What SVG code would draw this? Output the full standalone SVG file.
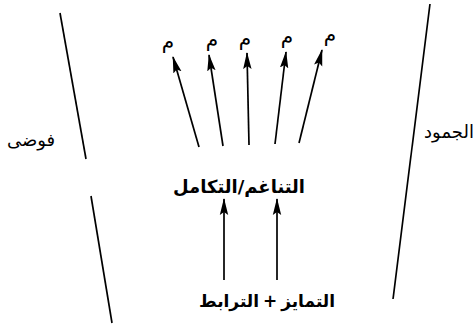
<svg xmlns="http://www.w3.org/2000/svg" width="476" height="329" viewBox="0 0 476 329">
<style>
.t{font-family:"DejaVu Sans",sans-serif;fill:#000}
.b{font-weight:bold;font-size:18px}
.s{font-size:18px}
.m{font-size:20px}
.ln{stroke:#000;stroke-width:1.7;fill:none}
</style>
<defs>
<marker id="ah" markerUnits="userSpaceOnUse" markerWidth="17" markerHeight="10" viewBox="0 0 17 10" refX="16" refY="5" orient="auto">
<path d="M0,0.8 L17,5 L0,9.2 L3,5 Z" fill="#000"/>
</marker>
</defs>
<rect width="476" height="329" fill="#fff"/>
<g id="boundaries">
<line class="ln" x1="60" y1="13" x2="86" y2="159"/>
<line class="ln" x1="91" y1="196" x2="112" y2="323"/>
<line class="ln" x1="430" y1="4" x2="393" y2="299"/>
</g>
<g id="label-chaos"><text class="t s" x="31" y="146" text-anchor="middle" direction="rtl">فوضى</text></g>
<g id="label-rigidity"><text class="t s" x="449" y="138" text-anchor="middle" direction="rtl">الجمود</text></g>
<g id="node-harmony"><text class="t b" x="239" y="193" text-anchor="middle" direction="rtl">التناغم/التكامل</text></g>
<g id="node-differentiation"><text class="t b" x="267" y="307" text-anchor="middle" direction="rtl" style="font-size:17px" word-spacing="-2">التمايز + الترابط</text></g>
<g id="outputs">
<text class="t m" x="168" y="48" text-anchor="middle">م</text>
<text class="t m" x="212" y="46" text-anchor="middle">م</text>
<text class="t m" x="245" y="45" text-anchor="middle">م</text>
<text class="t m" x="287" y="43" text-anchor="middle">م</text>
<text class="t m" x="330" y="41" text-anchor="middle">م</text>
</g>
<g id="connectors">
<line class="ln" x1="199" y1="147" x2="173" y2="57" marker-end="url(#ah)"/>
<line class="ln" x1="223" y1="146" x2="209" y2="55" marker-end="url(#ah)"/>
<line class="ln" x1="249" y1="145" x2="247" y2="53" marker-end="url(#ah)"/>
<line class="ln" x1="275" y1="144" x2="286" y2="52" marker-end="url(#ah)"/>
<line class="ln" x1="299" y1="143" x2="322" y2="50" marker-end="url(#ah)"/>
<line class="ln" x1="224" y1="280" x2="224" y2="199" marker-end="url(#ah)"/>
<line class="ln" x1="277" y1="280" x2="277" y2="199" marker-end="url(#ah)"/>
</g>
</svg>
